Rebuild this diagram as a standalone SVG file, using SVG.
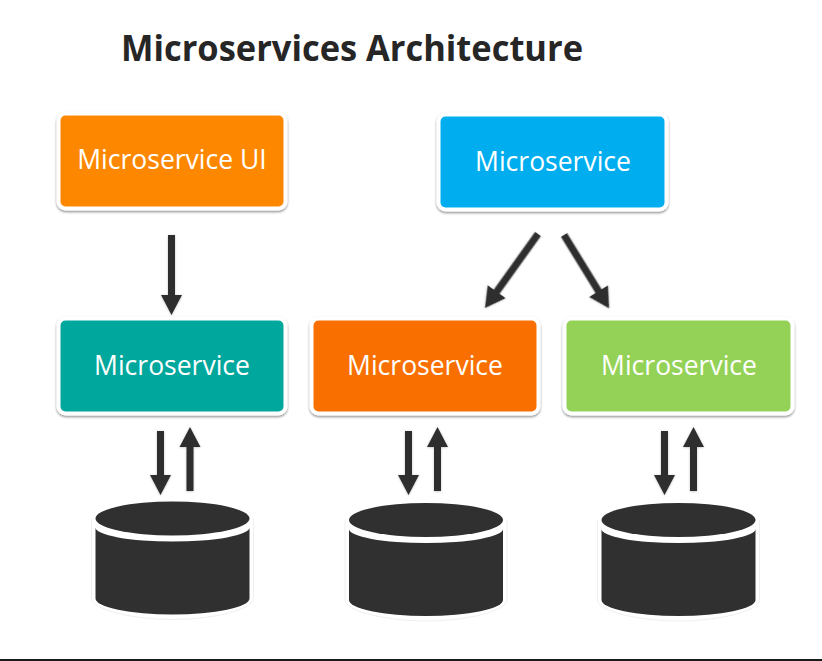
<svg xmlns="http://www.w3.org/2000/svg" width="822" height="661" viewBox="0 0 822 661">
<defs>
<filter id="sh" x="-10%" y="-10%" width="120%" height="125%"><feDropShadow dx="0" dy="1.5" stdDeviation="1" flood-color="#000" flood-opacity="0.45"/></filter>
<filter id="as" x="-30%" y="-30%" width="160%" height="160%"><feDropShadow dx="0" dy="0.5" stdDeviation="0.8" flood-color="#000" flood-opacity="0.25"/></filter>
<g id="db">
<ellipse cx="0" cy="-29" rx="77" ry="17" fill="#303030"/>
<path d="M-77 -20 A77 14 0 0 0 77 -20 V51 A77 16 0 0 1 -77 51Z" fill="#303030"/>
<path d="M-81 -29 V51 C-81 62 -40 72 0 72 C40 72 81 62 81 51 V-29" fill="none" stroke="#efefef" stroke-width="1"/>
</g>
</defs>
<style>
.box{stroke:#fff;stroke-width:4;filter:url(#sh)}
.lbl{font-family:"Open Sans","Noto Sans",sans-serif;font-size:26.5px;fill:#fff;text-anchor:middle}
.arr{fill:#2f2f2f;filter:url(#as)}
</style>
<rect width="822" height="661" fill="#fff"/>
<text x="121" y="61" font-family="'Open Sans','Noto Sans',sans-serif" font-size="35px" font-weight="700" fill="#262626" textLength="462" lengthAdjust="spacingAndGlyphs">Microservices Architecture</text>
<g id="connectors">
<path class="arr" d="M168 235h7v60h7l-10.500 20l-10.500-20h7z"/>
<path class="arr" transform="rotate(35.600 538 234)" d="M534.500 234h7v71h7.500l-11 20l-11-20h7.500z"/>
<path class="arr" transform="rotate(-31.600 564 235)" d="M560.500 235h7v66h7.500l-11 20l-11-20h7.500z"/>
<path class="arr" d="M157 431h7v44h7l-10.500 20l-10.500-20h7z"/>
<path class="arr" d="M186.500 491h7v-44h7l-10.500-20l-10.500 20h7z"/>
<path class="arr" d="M405 431h7v44h7l-10.500 20l-10.500-20h7z"/>
<path class="arr" d="M434 491h7v-44h7l-10.500-20l-10.500 20h7z"/>
<path class="arr" d="M661 431h7v44h7l-10.500 20l-10.500-20h7z"/>
<path class="arr" d="M690 491h7v-44h7l-10.500-20l-10.500 20h7z"/>
</g>
<g id="node-ui"><rect class="box" x="58.500" y="113.500" width="227" height="95" rx="7" fill="#fd8803"/><text class="lbl" x="172" y="169">Microservice UI</text></g>
<g id="node-blue"><rect class="box" x="438.500" y="114.500" width="228" height="95" rx="7" fill="#00aeef"/><text class="lbl" x="553" y="171">Microservice</text></g>
<g id="node-teal"><rect class="box" x="58.500" y="318.500" width="227" height="95" rx="7" fill="#00a79d"/><text class="lbl" x="172" y="375">Microservice</text></g>
<g id="node-orange"><rect class="box" x="311.500" y="318.500" width="227" height="95" rx="7" fill="#f97000"/><text class="lbl" x="425" y="375">Microservice</text></g>
<g id="node-green"><rect class="box" x="564.500" y="318.500" width="228" height="95" rx="7" fill="#93d256"/><text class="lbl" x="679" y="375">Microservice</text></g>
<g id="db-1"><use href="#db" x="172.500" y="547.500"/></g>
<g id="db-2"><use href="#db" x="426" y="549"/></g>
<g id="db-3"><use href="#db" x="678.500" y="549"/></g>
<rect x="0" y="659" width="822" height="2" fill="#1a1a1a"/>
</svg>
